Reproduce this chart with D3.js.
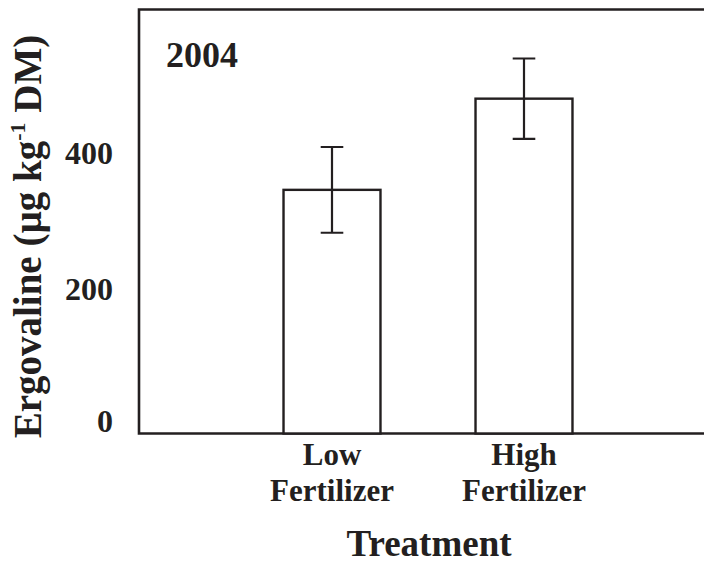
<!DOCTYPE html>
<html>
<head>
<meta charset="utf-8">
<script src="https://cdn.jsdelivr.net/npm/d3@7"></script>
<style>
  html, body { margin: 0; padding: 0; background: #ffffff; }
  svg { display: block; }
  text { font-family: "Liberation Serif", "Times New Roman", serif; font-weight: bold; fill: #231f20; }
</style>
</head>
<body>
<svg id="chart" width="704" height="565"></svg>
<script>
// Ergovaline concentration by fertilizer treatment, 2004
const categories = ["Low", "High"];
const categoryLines = [["Low", "Fertilizer"], ["High", "Fertilizer"]];
const means = [358, 492];
const errors = [63, 59];
const yTicks = [0, 200, 400];
const panelLabel = "2004";

const W = 704, H = 565;
const ink = "#231f20";
const plotLeft = 139, plotTop = 9.5, plotBottom = 433.5;

const svg = d3.select("#chart");

const y = d3.scaleLinear().domain([0, 623]).range([plotBottom, plotTop]);
const x = d3.scaleBand().domain(categories).range([236, 620])
  .paddingInner(0.495).paddingOuter(0.2475);

// frame: left, top and baseline
svg.append("path")
  .attr("d", `M${W},${plotTop}H${plotLeft}V${plotBottom}H${W}`)
  .attr("fill", "none").attr("stroke", ink).attr("stroke-width", 2.6);

// bars
svg.selectAll("rect.bar").data(categories).join("rect")
  .attr("class", "bar")
  .attr("x", d => x(d))
  .attr("y", (d, i) => y(means[i]))
  .attr("width", x.bandwidth())
  .attr("height", (d, i) => y(0) - y(means[i]))
  .attr("fill", "#ffffff").attr("stroke", ink).attr("stroke-width", 2.4);

// error bars
const cap = 11.3;
const eb = svg.selectAll("g.err").data(categories).join("g").attr("class", "err")
  .attr("stroke", ink).attr("stroke-width", 2.2).attr("fill", "none");
eb.append("path").attr("d", (d, i) => {
  const cx = x(d) + x.bandwidth() / 2;
  const y1 = y(means[i] + errors[i]), y2 = y(means[i] - errors[i]);
  return `M${cx},${y1}V${y2}M${cx - cap},${y1}H${cx + cap}M${cx - cap},${y2}H${cx + cap}`;
});

// y tick labels (no tick marks)
const yAxis = svg.append("g").attr("transform", `translate(113,0)`)
  .call(d3.axisLeft(y).tickValues(yTicks).tickSize(0).tickPadding(0));
yAxis.select(".domain").remove();
yAxis.selectAll("text")
  .attr("font-family", "Liberation Serif, Times New Roman, serif")
  .attr("font-weight", "bold")
  .attr("font-size", 32)
  .attr("fill", ink)
  .attr("dy", "0.32em")
  .attr("y", d => d === 0 ? -12 : -8);

// category labels, two lines each
categories.forEach((c, i) => {
  const cx = x(c) + x.bandwidth() / 2;
  const t = svg.append("text").attr("text-anchor", "middle").attr("font-size", 31);
  categoryLines[i].forEach((line, j) => {
    t.append("tspan").attr("x", cx).attr("y", 465 + j * 36).text(line);
  });
});

// axis titles
svg.append("text").attr("x", 429).attr("y", 556)
  .attr("text-anchor", "middle").attr("font-size", 37).text("Treatment");

const yt = svg.append("text")
  .attr("transform", "translate(41,236.5) rotate(-90)")
  .attr("text-anchor", "middle").attr("font-size", 39);
yt.append("tspan").text("Ergovaline (µg kg");
yt.append("tspan").attr("font-size", 22).attr("dy", -16).text("-1");
yt.append("tspan").attr("dy", 16).text(" DM)");

// panel label
svg.append("text").attr("x", 166).attr("y", 67)
  .attr("font-size", 36).text(panelLabel);
</script>
</body>
</html>
